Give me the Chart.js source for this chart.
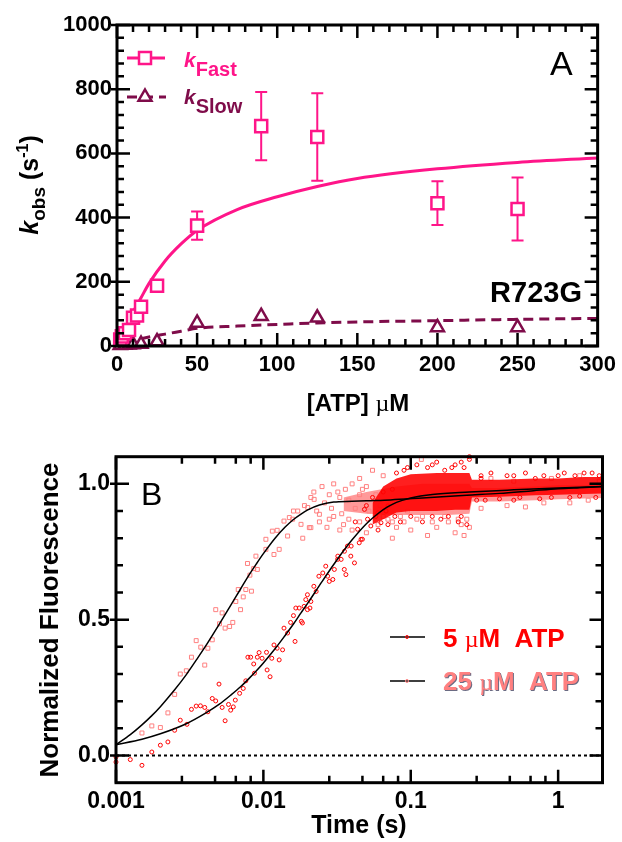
<!DOCTYPE html>
<html>
<head>
<meta charset="utf-8">
<script src="https://cdn.jsdelivr.net/npm/chart.js@4.4.1/dist/chart.umd.min.js"></script>
<style>
  body { margin: 0; background: #fff; }
  #wrapA { position: absolute; left: 0; top: 0; width: 622px; height: 420px; }
  #wrapB { position: absolute; left: 0; top: 430px; width: 622px; height: 412px; }
</style>
</head>
<body>
<div id="wrapA"><canvas id="chartA" width="622" height="420"></canvas></div>
<div id="wrapB"><canvas id="chartB" width="622" height="412"></canvas></div>
<script>
// ---- panel A: kobs vs [ATP] ----
var atpFast = [2, 3, 5, 7.5, 10, 12.5, 15, 25, 50, 90, 125, 200, 250];
var kFast   = [20, 30, 40, 50, 88, 95, 122, 188, 375, 685, 651, 445, 427];
var kFastSD = [0, 0, 0, 0, 0, 0, 0, 0, 44, 106, 136, 68, 98];
var atpSlow = [2, 5, 7.5, 10, 15, 25, 50, 90, 125, 200, 250];
var kSlow   = [2, 3, 4, 5, 6, 14, 72, 93, 88, 58, 58];
var fitAtp  = [5, 10, 15, 20, 30, 40, 50, 75, 100, 125, 150, 200, 250, 300];
var fitFast = [55, 105, 150, 195, 265, 318, 360, 425, 465, 497, 522, 552, 572, 586];
var fitSlow = [9, 17, 23, 28, 37, 46, 55, 62, 67, 72, 75, 79, 83, 86];
var aXTicks = [0, 50, 100, 150, 200, 250, 300];
var aYTicks = [0, 200, 400, 600, 800, 1000];

// ---- panel B: fluorescence transients ----
var t5 = [0.001, 0.001, 0.00125, 0.0015, 0.00175, 0.002, 0.00225, 0.0025, 0.00273, 0.00303,
  0.00325, 0.0035, 0.00374, 0.004, 0.0042, 0.0045, 0.00475, 0.005, 0.00525, 0.0055,
  0.0058, 0.006, 0.00625, 0.00645, 0.0069, 0.0073, 0.0076, 0.00785, 0.0082, 0.0087,
  0.0086, 0.0091, 0.00935, 0.0098, 0.0105, 0.0106, 0.0111, 0.0114, 0.0118, 0.0128,
  0.0124, 0.0135, 0.0138, 0.0146, 0.0153, 0.0164, 0.016, 0.0166, 0.0175, 0.0181,
  0.0189, 0.0199, 0.0207, 0.0194, 0.022, 0.0238, 0.0265, 0.028, 0.0303, 0.032,
  0.0355, 0.0363, 0.0394, 0.0415, 0.0447, 0.047, 0.0228, 0.0199, 0.0184, 0.021,
  0.0253, 0.0296, 0.0337, 0.0273, 0.0319, 0.0372, 0.0436, 0.0509, 0.0597, 0.07,
  0.0392, 0.046, 0.0536, 0.0628, 0.0354, 0.0485, 0.042, 0.05, 0.055, 0.058,
  0.065, 0.068, 0.075, 0.078, 0.09, 0.11, 0.13, 0.15, 0.17, 0.2,
  0.23, 0.25, 0.25, 0.12, 0.16, 0.21, 0.24, 0.3, 0.35, 0.45,
  0.6, 0.8, 1.1, 1.5, 1.9, 0.32, 0.5, 0.75, 1.2, 1.8,
  0.06, 0.07, 0.085, 0.1, 0.14, 0.18, 0.22, 0.08, 0.095, 0.14,
  0.19, 0.22, 0.28, 0.4, 0.55, 0.9, 1.4, 0.3, 0.5, 0.7,
  1.0, 1.3, 1.7];
var y5 = [-0.005, -0.024, -0.015, -0.036, 0.013, 0.038, 0.05, 0.093, 0.13, 0.115,
  0.17, 0.182, 0.183, 0.177, 0.161, 0.21, 0.201, 0.263, 0.177, 0.128,
  0.188, 0.167, 0.179, 0.204, 0.229, 0.247, 0.275, 0.362, 0.362, 0.303,
  0.337, 0.362, 0.379, 0.358, 0.38, 0.315, 0.29, 0.358, 0.407, 0.352,
  0.395, 0.389, 0.469, 0.451, 0.49, 0.42, 0.515, 0.543, 0.543, 0.494,
  0.549, 0.592, 0.543, 0.574, 0.623, 0.66, 0.697, 0.641, 0.685, 0.734,
  0.752, 0.666, 0.771, 0.709, 0.783, 0.796, 0.604, 0.537, 0.488, 0.567,
  0.672, 0.648, 0.722, 0.66, 0.722, 0.771, 0.833, 0.87, 0.894, 0.919,
  0.734, 0.796, 0.845, 0.857, 0.685, 0.906, 0.86, 0.92, 0.95, 0.88,
  0.97, 0.9, 0.98, 0.88, 1.05, 1.07, 1.06, 1.08, 1.05, 1.07,
  1.06, 1.1, 1.09, 0.86, 0.87, 0.86, 0.85, 1.03, 1.04, 1.03,
  1.04, 1.03, 1.04, 1.04, 1.03, 0.94, 0.94, 0.945, 0.95, 0.95,
  0.83, 0.85, 0.86, 0.88, 0.88, 0.88, 0.88, 1.04, 1.06, 1.07,
  1.06, 1.08, 0.94, 0.945, 0.95, 0.95, 0.955, 1.02, 1.03, 1.02,
  1.03, 1.03, 1.04];
var t25 = [0.0015, 0.00175, 0.002, 0.00225, 0.0025, 0.00273, 0.003, 0.00325, 0.0035, 0.00376,
  0.004, 0.0042, 0.0045, 0.00475, 0.00525, 0.00504, 0.0055, 0.0059, 0.0062, 0.0065,
  0.00675, 0.007, 0.0073, 0.0076, 0.0083, 0.0081, 0.0086, 0.0091, 0.0078, 0.0089,
  0.0104, 0.0104, 0.0118, 0.0115, 0.0124, 0.0128, 0.0138, 0.015, 0.0146, 0.0158,
  0.0171, 0.0185, 0.018, 0.02, 0.0205, 0.0221, 0.024, 0.021, 0.022, 0.025,
  0.028, 0.03, 0.033, 0.036, 0.04, 0.045, 0.05, 0.055, 0.024, 0.027,
  0.03, 0.035, 0.04, 0.045, 0.05, 0.06, 0.07, 0.08, 0.09, 0.1,
  0.118, 0.12, 0.15, 0.18, 0.2, 0.22, 0.24, 0.25, 0.3, 0.45,
  0.6, 0.8, 1.2, 1.6, 0.35, 0.5, 0.9, 1.4, 1.9,
  0.019, 0.021, 0.023, 0.026, 0.029, 0.032, 0.034, 0.038, 0.042, 0.047,
  0.052, 0.058, 0.065, 0.075, 0.085, 0.11, 0.14, 0.17, 0.21, 0.045,
  0.065, 0.028, 0.033, 0.038, 0.016, 0.13, 0.23, 0.075, 0.062, 0.095];
var y25 = [0.083, 0.109, 0.103, 0.157, 0.225, 0.3, 0.312, 0.362, 0.423, 0.399,
  0.333, 0.395, 0.426, 0.537, 0.525, 0.485, 0.469, 0.475, 0.49, 0.567,
  0.611, 0.537, 0.584, 0.611, 0.605, 0.664, 0.688, 0.685, 0.707, 0.734,
  0.759, 0.796, 0.74, 0.826, 0.829, 0.759, 0.863, 0.876, 0.808, 0.87,
  0.9, 0.8, 0.851, 0.913, 0.839, 0.943, 0.888, 0.839, 0.97, 0.99,
  0.96, 1.0, 0.95, 0.98, 1.0, 0.96, 0.99, 1.05, 0.86, 0.84,
  0.88, 0.85, 0.83, 0.86, 0.82, 0.85, 0.87, 0.84, 0.86, 0.83,
  1.09, 0.88, 0.84, 0.86, 0.82, 0.85, 0.87, 0.84, 0.91, 0.92,
  0.915, 0.93, 0.93, 0.94, 1.02, 1.01, 1.02, 1.03, 1.01,
  0.92, 0.95, 0.9, 0.93, 0.91, 0.97, 0.89, 0.94, 0.91, 0.98,
  0.9, 0.96, 0.88, 0.86, 0.88, 0.87, 0.86, 0.88, 0.87, 1.02,
  1.03, 0.87, 0.83, 0.87, 0.9, 0.81, 0.81, 0.8, 0.92, 0.9];
// dense noise clouds at long times: upper / lower edges
var band25T  = [0.035, 0.05, 0.08, 0.12, 0.18, 0.25, 0.26, 0.4, 0.7, 1, 1.5, 2];
var band25Hi = [0.95, 0.97, 0.99, 1.0, 1.0, 1.0, 0.985, 0.985, 0.99, 0.995, 0.995, 1.0];
var band25Lo = [0.9, 0.89, 0.885, 0.885, 0.885, 0.89, 0.935, 0.935, 0.94, 0.943, 0.946, 0.948];
var band5T   = [0.055, 0.065, 0.08, 0.1, 0.15, 0.2, 0.25, 0.26, 0.4, 0.7, 1, 1.5, 2];
var band5Hi  = [0.93, 0.99, 1.02, 1.035, 1.04, 1.04, 1.04, 1.015, 1.015, 1.02, 1.02, 1.025, 1.025];
var band5Lo  = [0.85, 0.87, 0.895, 0.9, 0.9, 0.905, 0.905, 0.95, 0.953, 0.958, 0.96, 0.963, 0.965];
// fitted curves
var fit5T  = [0.001, 0.0015, 0.002, 0.003, 0.004, 0.005, 0.006, 0.007, 0.008, 0.009,
  0.01, 0.012, 0.014, 0.016, 0.018, 0.02, 0.025, 0.03, 0.035, 0.04,
  0.05, 0.06, 0.07, 0.08, 0.1, 0.14, 0.25, 0.5, 1.0, 2.0];
var fit5Y  = [0.04, 0.06, 0.08, 0.117, 0.154, 0.188, 0.222, 0.253, 0.284, 0.313,
  0.341, 0.393, 0.441, 0.484, 0.525, 0.561, 0.64, 0.703, 0.754, 0.794,
  0.853, 0.891, 0.916, 0.932, 0.948, 0.961, 0.97, 0.978, 0.985, 0.99];
var fit25T = [0.001, 0.00125, 0.0015, 0.00175, 0.002, 0.0025, 0.003, 0.0035, 0.004, 0.005,
  0.006, 0.007, 0.008, 0.009, 0.01, 0.012, 0.014, 0.016, 0.018, 0.02,
  0.024, 0.03, 0.04, 0.05, 0.073, 0.12, 0.24, 0.4, 0.68, 1.0, 1.4, 2.0];
var fit25Y = [0.04, 0.077, 0.113, 0.147, 0.18, 0.242, 0.298, 0.351, 0.398, 0.482,
  0.553, 0.613, 0.665, 0.707, 0.743, 0.8, 0.84, 0.869, 0.889, 0.904,
  0.922, 0.933, 0.936, 0.938, 0.941, 0.948, 0.958, 0.965, 0.975, 0.982, 0.986, 0.99];
var bXTicks = [0.001, 0.01, 0.1, 1];
var bXLabels = ['0.001', '0.01', '0.1', '1'];
var bYTicks = [0, 0.5, 1];

var PINK = '#ff1589';
var MAROON = '#7f0c4a';
var RED = '#ff0000';
var LIGHT = '#ff8080';
var SANS = "'Liberation Sans', Arial, sans-serif";

function pts(xs, ys) {
  return xs.map(function (x, i) { return { x: x, y: ys[i] }; });
}

function drawRuns(ctx, runs, x, y, align) {
  var w = 0;
  runs.forEach(function (r) { ctx.font = r.font; r.w = ctx.measureText(r.t).width; w += r.w; });
  var cx = align === 'center' ? x - w / 2 : (align === 'right' ? x - w : x);
  ctx.textAlign = 'left';
  ctx.textBaseline = 'alphabetic';
  runs.forEach(function (r) {
    ctx.font = r.font;
    ctx.fillStyle = r.color || '#000';
    ctx.fillText(r.t, cx, y + (r.dy || 0));
    cx += r.w;
  });
}

function triangle(ctx, cx, cy, r) {
  ctx.beginPath();
  ctx.moveTo(cx, cy - r);
  ctx.lineTo(cx + r * 0.866, cy + r / 2);
  ctx.lineTo(cx - r * 0.866, cy + r / 2);
  ctx.closePath();
}

// frame + inward ticks on all four sides
var frameTicks = {
  id: 'frameTicks',
  afterDraw: function (chart, args, o) {
    var ctx = chart.ctx, a = chart.chartArea, sx = chart.scales.x, sy = chart.scales.y;
    ctx.save();
    ctx.strokeStyle = '#000';
    ctx.lineWidth = 2.5;
    ctx.beginPath();
    o.xMajor.forEach(function (v) {
      var p = sx.getPixelForValue(v);
      ctx.moveTo(p, a.bottom); ctx.lineTo(p, a.bottom - 13);
      ctx.moveTo(p, a.top); ctx.lineTo(p, a.top + 13);
    });
    o.xMinor.forEach(function (v) {
      var p = sx.getPixelForValue(v);
      ctx.moveTo(p, a.bottom); ctx.lineTo(p, a.bottom - 7);
      ctx.moveTo(p, a.top); ctx.lineTo(p, a.top + 7);
    });
    o.yMajor.forEach(function (v) {
      var p = sy.getPixelForValue(v);
      ctx.moveTo(a.left - 6, p); ctx.lineTo(a.left + 13, p);
      ctx.moveTo(a.right, p); ctx.lineTo(a.right - 13, p);
    });
    o.yMinor.forEach(function (v) {
      var p = sy.getPixelForValue(v);
      ctx.moveTo(a.left, p); ctx.lineTo(a.left + 7, p);
      ctx.moveTo(a.right, p); ctx.lineTo(a.right - 7, p);
    });
    ctx.stroke();
    ctx.lineWidth = 3;
    ctx.strokeRect(a.left, a.top, a.right - a.left, a.bottom - a.top);
    ctx.restore();
  }
};

// error bars for kFast
var errorBars = {
  id: 'errorBars',
  beforeDatasetsDraw: function (chart) {
    var ctx = chart.ctx, sx = chart.scales.x, sy = chart.scales.y;
    ctx.save();
    ctx.strokeStyle = PINK;
    ctx.lineWidth = 2;
    ctx.beginPath();
    atpFast.forEach(function (x, i) {
      if (!kFastSD[i]) return;
      var px = sx.getPixelForValue(x);
      var top = sy.getPixelForValue(kFast[i] + kFastSD[i]);
      var bot = sy.getPixelForValue(kFast[i] - kFastSD[i]);
      ctx.moveTo(px, top); ctx.lineTo(px, bot);
      ctx.moveTo(px - 6, top); ctx.lineTo(px + 6, top);
      ctx.moveTo(px - 6, bot); ctx.lineTo(px + 6, bot);
    });
    ctx.stroke();
    ctx.restore();
  }
};

var textA = {
  id: 'textA',
  afterDraw: function (chart) {
    var ctx = chart.ctx;
    ctx.save();
    // y title
    ctx.save();
    ctx.translate(38, 185);
    ctx.rotate(-Math.PI / 2);
    drawRuns(ctx, [
      { t: 'k', font: 'italic bold 25px ' + SANS },
      { t: 'obs', font: 'bold 19px ' + SANS, dy: 7 },
      { t: ' (s', font: 'bold 25px ' + SANS },
      { t: '-1', font: 'bold 16px ' + SANS, dy: -10 },
      { t: ')', font: 'bold 25px ' + SANS }
    ], 0, 0, 'center');
    ctx.restore();
    // x title
    drawRuns(ctx, [
      { t: '[ATP] ', font: 'bold 24px ' + SANS },
      { t: 'µ', font: "24px 'Liberation Serif', serif" },
      { t: 'M', font: 'bold 24px ' + SANS }
    ], 358, 411, 'center');
    drawRuns(ctx, [{ t: 'A', font: '34px ' + SANS }], 550, 75, 'left');
    drawRuns(ctx, [{ t: 'R723G', font: 'bold 29px ' + SANS }], 582, 302, 'right');
    // legend
    ctx.lineWidth = 3;
    ctx.strokeStyle = PINK;
    ctx.beginPath(); ctx.moveTo(127, 58); ctx.lineTo(165, 58); ctx.stroke();
    ctx.fillStyle = '#fff';
    ctx.lineWidth = 2.5;
    ctx.fillRect(139, 52, 12, 12); ctx.strokeRect(139, 52, 12, 12);
    drawRuns(ctx, [
      { t: 'k', font: 'italic bold 21px ' + SANS, color: PINK },
      { t: 'Fast', font: 'bold 20px ' + SANS, color: PINK, dy: 9 }
    ], 184, 67, 'left');
    ctx.strokeStyle = MAROON;
    ctx.lineWidth = 3;
    ctx.setLineDash([10, 6]);
    ctx.beginPath(); ctx.moveTo(127, 97); ctx.lineTo(166, 97); ctx.stroke();
    ctx.setLineDash([]);
    ctx.lineWidth = 2.5;
    triangle(ctx, 145, 97, 7.5);
    ctx.fillStyle = '#fff'; ctx.fill(); ctx.stroke();
    drawRuns(ctx, [
      { t: 'k', font: 'italic bold 21px ' + SANS, color: MAROON },
      { t: 'Slow', font: 'bold 20px ' + SANS, color: MAROON, dy: 9 }
    ], 184, 104, 'left');
    ctx.restore();
  }
};

var textB = {
  id: 'textB',
  afterDraw: function (chart) {
    var ctx = chart.ctx;
    ctx.save();
    ctx.save();
    ctx.translate(58, 190);
    ctx.rotate(-Math.PI / 2);
    drawRuns(ctx, [{ t: 'Normalized Fluorescence', font: 'bold 26px ' + SANS }], 0, 0, 'center');
    ctx.restore();
    drawRuns(ctx, [{ t: 'Time (s)', font: 'bold 25px ' + SANS }], 359, 403, 'center');
    drawRuns(ctx, [{ t: 'B', font: '32px ' + SANS }], 141, 75, 'left');
    // legend
    ctx.strokeStyle = '#000';
    ctx.lineWidth = 1.5;
    ctx.beginPath();
    ctx.moveTo(390, 207); ctx.lineTo(425, 207);
    ctx.moveTo(390, 251); ctx.lineTo(425, 251);
    ctx.stroke();
    ctx.lineWidth = 1;
    ctx.strokeStyle = RED;
    ctx.beginPath(); ctx.arc(407, 207, 1.5, 0, Math.PI * 2); ctx.stroke();
    ctx.strokeStyle = LIGHT;
    ctx.beginPath(); ctx.arc(407, 251, 1.5, 0, Math.PI * 2); ctx.stroke();
    drawRuns(ctx, [
      { t: '5 ', font: 'bold 26px ' + SANS, color: RED },
      { t: 'µ', font: "24px 'Liberation Serif', serif", color: RED },
      { t: 'M  ATP', font: 'bold 26px ' + SANS, color: RED }
    ], 443, 217, 'left');
    ctx.shadowColor = 'rgba(70,70,100,0.8)';
    ctx.shadowOffsetX = 1;
    ctx.shadowOffsetY = 1;
    drawRuns(ctx, [
      { t: '25 ', font: 'bold 26px ' + SANS, color: LIGHT },
      { t: 'µ', font: "24px 'Liberation Serif', serif", color: LIGHT },
      { t: 'M  ATP', font: 'bold 26px ' + SANS, color: LIGHT }
    ], 443, 260, 'left');
    ctx.restore();
  }
};

function minors(lo, hi, step, majors) {
  var out = [];
  for (var v = lo; v <= hi + 1e-9; v += step) {
    var r = Math.round(v * 1000) / 1000;
    if (majors.indexOf(r) < 0) out.push(r);
  }
  return out;
}

var tickFont = function (size) { return { family: SANS, size: size, weight: 'bold' }; };

new Chart(document.getElementById('chartA'), {
  type: 'line',
  data: {
    datasets: [
      {
        data: pts(atpFast, kFast), showLine: false, pointStyle: 'rect', pointRadius: 8.5,
        pointBorderWidth: 2.5, borderColor: PINK, pointBackgroundColor: '#fff', clip: false, order: 0
      },
      {
        data: pts(atpSlow, kSlow), showLine: false, pointStyle: 'triangle', pointRadius: 7.5,
        pointBorderWidth: 2.5, borderColor: MAROON, pointBackgroundColor: '#fff', clip: false, order: 1
      },
      {
        data: pts(fitAtp, fitFast), borderColor: PINK, borderWidth: 3, pointRadius: 0,
        cubicInterpolationMode: 'monotone', order: 2
      },
      {
        data: pts(fitAtp, fitSlow), borderColor: MAROON, borderWidth: 3, borderDash: [10, 6],
        pointRadius: 0, cubicInterpolationMode: 'monotone', order: 3
      }
    ]
  },
  options: {
    responsive: false, animation: false, devicePixelRatio: 1,
    layout: { padding: { left: 0, right: 22, top: 25, bottom: 0 } },
    plugins: {
      legend: { display: false }, tooltip: { enabled: false },
      frameTicks: { xMajor: aXTicks, xMinor: minors(0, 300, 10, aXTicks), yMajor: aYTicks, yMinor: minors(0, 1000, 40, aYTicks) }
    },
    scales: {
      x: {
        type: 'linear', min: 0, max: 300,
        grid: { display: false, drawTicks: false }, border: { display: false },
        afterBuildTicks: function (s) { s.ticks = aXTicks.map(function (v) { return { value: v }; }); },
        afterFit: function (s) { s.height = 74; },
        ticks: { color: '#000', font: tickFont(22), padding: 6, maxRotation: 0, autoSkip: false, callback: function (v) { return String(v); } }
      },
      y: {
        min: 0, max: 1000,
        grid: { display: false, drawTicks: false }, border: { display: false },
        afterBuildTicks: function (s) { s.ticks = aYTicks.map(function (v) { return { value: v }; }); },
        afterFit: function (s) { s.width = 117; },
        ticks: { color: '#000', font: tickFont(22), padding: 5, callback: function (v) { return String(v); } }
      }
    }
  },
  plugins: [errorBars, frameTicks, textA]
});

new Chart(document.getElementById('chartB'), {
  type: 'line',
  data: {
    datasets: [
      { data: pts(fit5T, fit5Y), borderColor: '#000', borderWidth: 1.5, pointRadius: 0, cubicInterpolationMode: 'monotone', order: 0 },
      { data: pts(fit25T, fit25Y), borderColor: '#000', borderWidth: 1.5, pointRadius: 0, cubicInterpolationMode: 'monotone', order: 1 },
      { data: [{ x: 0.001, y: 0 }, { x: 2, y: 0 }], borderColor: '#000', borderWidth: 2, borderDash: [3, 3], pointRadius: 0, order: 2 },
      {
        data: pts(t5, y5), showLine: false, pointStyle: 'circle', pointRadius: 2, pointBorderWidth: 1,
        borderColor: RED, pointBackgroundColor: 'rgba(255,255,255,0)', clip: 3, order: 3
      },
      {
        data: pts(band5T, band5Hi), borderWidth: 0, pointRadius: 0, fill: '+1',
        backgroundColor: 'rgba(255,0,0,0.88)', borderColor: 'rgba(0,0,0,0)', order: 4
      },
      { data: pts(band5T, band5Lo), borderWidth: 0, pointRadius: 0, borderColor: 'rgba(0,0,0,0)', order: 5 },
      {
        data: pts(t25, y25), showLine: false, pointStyle: 'rect', pointRadius: 2.8, pointBorderWidth: 1,
        borderColor: LIGHT, pointBackgroundColor: 'rgba(255,255,255,0)', clip: 3, order: 6
      },
      {
        data: pts(band25T, band25Hi), borderWidth: 0, pointRadius: 0, fill: '+1',
        backgroundColor: 'rgba(255,128,128,0.8)', borderColor: 'rgba(0,0,0,0)', order: 7
      },
      { data: pts(band25T, band25Lo), borderWidth: 0, pointRadius: 0, borderColor: 'rgba(0,0,0,0)', order: 8 }
    ]
  },
  options: {
    responsive: false, animation: false, devicePixelRatio: 1,
    layout: { padding: { left: 0, right: 19.5, top: 26.7, bottom: 0 } },
    plugins: {
      legend: { display: false }, tooltip: { enabled: false },
      frameTicks: {
        xMajor: bXTicks,
        xMinor: [0.0028, 0.0047, 0.0065, 0.0082, 0.028, 0.047, 0.065, 0.082, 0.28, 0.47, 0.65, 0.82],
        yMajor: bYTicks,
        yMinor: [0.1, 0.2, 0.3, 0.4, 0.6, 0.7, 0.8, 0.9]
      }
    },
    scales: {
      x: {
        type: 'logarithmic', min: 0.001, max: 2,
        grid: { display: false, drawTicks: false }, border: { display: false },
        afterBuildTicks: function (s) { s.ticks = bXTicks.map(function (v) { return { value: v }; }); },
        afterFit: function (s) { s.height = 59.3; },
        ticks: { color: '#000', font: tickFont(23), padding: 5, maxRotation: 0, autoSkip: false, callback: function (v, i) { return bXLabels[i]; } }
      },
      y: {
        min: -0.1, max: 1.1,
        grid: { display: false, drawTicks: false }, border: { display: false },
        afterBuildTicks: function (s) { s.ticks = bYTicks.map(function (v) { return { value: v }; }); },
        afterFit: function (s) { s.width = 116; },
        ticks: { color: '#000', font: tickFont(23), padding: 6, callback: function (v) { return v.toFixed(1); } }
      }
    }
  },
  plugins: [frameTicks, textB]
});
</script>
</body>
</html>
